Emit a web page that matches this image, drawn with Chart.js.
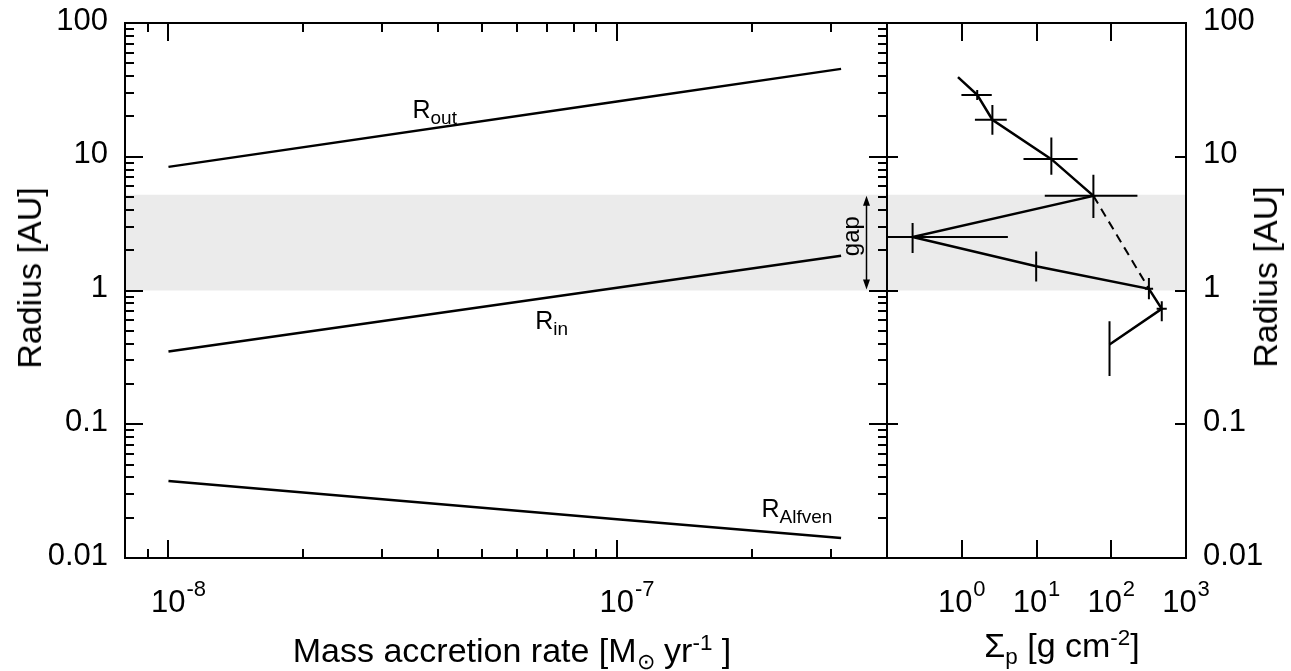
<!DOCTYPE html>
<html>
<head>
<meta charset="utf-8">
<title>Disk radii and planetesimal surface density</title>
<script src="https://cdn.jsdelivr.net/npm/chart.js@4.4.1/dist/chart.umd.min.js"></script>
<style>
  html, body { margin: 0; padding: 0; background: #fff; }
  #stage { position: relative; width: 1291px; height: 671px; overflow: hidden;
           font-family: "Liberation Sans", Arial, sans-serif; color: #000; }
  #stage canvas { position: absolute; left: 0; top: 0; }
  .title { position: absolute; font-size: 34px; line-height: 34px; white-space: nowrap; }
  .title .sup, .title .sub { position: relative; font-size: 0.66em; line-height: 0; }
  .title .sup { top: -0.55em; }
  .title .sub { top: 0.3em; }
  .yTitle { transform: translate(-50%, -50%) rotate(-90deg); }
  .xTitle { transform: translateX(-50%); }
</style>
</head>
<body>
<div id="stage">
  <canvas id="accretionChart" width="1291" height="671"></canvas>
  <canvas id="profileChart" width="1291" height="671"></canvas>
  <div class="title xTitle" id="accretionTitle">Mass accretion rate [M<span class="sub">⊙</span> yr<span class="sup">-1</span> ]</div>
  <div class="title xTitle" id="sigmaTitle">Σ<span class="sub">p</span> [g cm<span class="sup">-2</span>]</div>
  <div class="title yTitle" id="radiusTitleLeft">Radius [AU]</div>
  <div class="title yTitle" id="radiusTitleRight">Radius [AU]</div>
</div>
<script>
// ---- left panel: characteristic radii versus accretion rate ----
const accretionRate = [1e-8, 1e-7, 3.16e-7];       // Msun / yr
const rOut     = [8.4, 25.9, 45.4];                 // AU
const rIn      = [0.35, 1.05, 1.82];                // AU
const rAlfven  = [0.0376, 0.0195, 0.0141];          // AU

// ---- right panel: planetesimal surface density profile ----
const sigmaP     = [1.61, 2.57, 15.8, 57.7, 0.22, 9.9, 319, 474, 94.8];   // g cm^-2
const sigmaLow   = [0.99, 1.5, 6.7, 12.9, 0.08, 9.9, 282, 405, 94.8];
const sigmaHigh  = [2.52, 4.0, 35.5, 224, 4.14, 9.9, 363, 553, 94.8];
const radiusP    = [29, 18.9, 9.6, 5.1, 2.51, 1.52, 1.03, 0.73, 0.395];   // AU
const radiusLow  = [26.6, 14.6, 7.35, 3.48, 1.91, 1.17, 0.86, 0.59, 0.229];
const radiusHigh = [31.6, 24.4, 13.9, 7.35, 3.2, 1.96, 1.24, 0.83, 0.59];
const edgeSigma  = 0.89;   // outer end of the profile
const edgeRadius = 39.4;
const bridgeFrom = 3;      // dashed link across the gap (indices into the arrays)
const bridgeTo   = 6;

// ---- gap region (AU) ----
const gapInner = 1.0;
const gapOuter = 5.2;

// ---- axis ranges and tick labels ----
const accretionRange = [8e-9, 4e-7];
const sigmaRange     = [0.1, 1000];
const radiusRange    = [0.01, 100];
const radiusTicks      = [0.01, 0.1, 1, 10, 100];
const radiusTickLabels = ['0.01', '0.1', '1', '10', '100'];
const accretionTicks     = [1e-8, 1e-7];
const accretionExponents = ['-8', '-7'];
const sigmaTicks     = [1, 10, 100, 1000];
const sigmaExponents = ['0', '1', '2', '3'];

const FONT = '"Liberation Sans", Arial, sans-serif';
const BAND = '#ebebeb';

function minorValues(min, max) {
  const out = [];
  const e0 = Math.floor(Math.log10(min)), e1 = Math.ceil(Math.log10(max));
  for (let e = e0; e <= e1; e++) {
    for (let m = 2; m <= 9; m++) {
      const v = m * Math.pow(10, e);
      if (v > min * 1.0001 && v < max * 0.9999) out.push(v);
    }
  }
  return out;
}

// "10" with a raised exponent, centred on x, baseline at y
function drawPower(ctx, x, y, exp) {
  ctx.font = '31px ' + FONT;
  const wBase = ctx.measureText('10').width;
  ctx.font = '22px ' + FONT;
  const wExp = ctx.measureText(exp).width;
  const start = x - (wBase + wExp + 1) / 2;
  ctx.textAlign = 'left';
  ctx.textBaseline = 'alphabetic';
  ctx.font = '31px ' + FONT;
  ctx.fillText('10', start, y);
  ctx.font = '22px ' + FONT;
  ctx.fillText(exp, start + wBase + 1, y - 16);
}

// "R" with a subscript, left edge at x, baseline at y
function drawSubLabel(ctx, x, y, main, sub) {
  ctx.textAlign = 'left';
  ctx.textBaseline = 'alphabetic';
  ctx.font = '25px ' + FONT;
  ctx.fillText(main, x, y);
  const w = ctx.measureText(main).width;
  ctx.font = '19px ' + FONT;
  ctx.fillText(sub, x + w, y + 6);
}

function gapBand(chart) {
  const { ctx, chartArea: a, scales: { y } } = chart;
  const top = y.getPixelForValue(gapOuter);
  const bot = y.getPixelForValue(gapInner);
  ctx.save();
  ctx.fillStyle = BAND;
  ctx.fillRect(a.left, top, a.right - a.left, bot - top);
  ctx.restore();
}

function drawFrame(chart, o) {
  const { ctx, chartArea: a, scales: { x, y } } = chart;
  ctx.save();
  ctx.strokeStyle = '#000';
  ctx.lineWidth = 2;
  ctx.beginPath();
  const seg = (x1, y1, x2, y2) => { ctx.moveTo(x1, y1); ctx.lineTo(x2, y2); };
  const xt = o.xMajor.map(v => [v, o.xMajorLen]);
  if (o.xMinorLen) minorValues(x.min, x.max).forEach(v => xt.push([v, o.xMinorLen]));
  xt.forEach(([v, len]) => {
    const px = Math.round(x.getPixelForValue(v));
    seg(px, a.top, px, a.top + len);
    seg(px, a.bottom, px, a.bottom - len);
  });
  const yt = radiusTicks.map(v => [v, o.yMajorLen]);
  if (o.yMinorLen) minorValues(y.min, y.max).forEach(v => yt.push([v, o.yMinorLen]));
  yt.forEach(([v, len]) => {
    const py = Math.round(y.getPixelForValue(v));
    seg(a.left, py, a.left + len, py);
    seg(a.right, py, a.right - len, py);
  });
  ctx.stroke();
  ctx.strokeRect(a.left, a.top, a.right - a.left, a.bottom - a.top);
  ctx.restore();
}

function yLabels(chart, side) {
  const { ctx, chartArea: a, scales: { y } } = chart;
  ctx.save();
  ctx.fillStyle = '#000';
  ctx.font = '31px ' + FONT;
  ctx.textBaseline = 'middle';
  ctx.textAlign = side === 'left' ? 'right' : 'left';
  const x = side === 'left' ? a.left - 17 : a.right + 17;
  radiusTicks.forEach((v, i) => ctx.fillText(radiusTickLabels[i], x, y.getPixelForValue(v) - 2));
  ctx.restore();
}

function xLabels(chart, values, exps, shift) {
  const { ctx, chartArea: a, scales: { x } } = chart;
  ctx.save();
  ctx.fillStyle = '#000';
  values.forEach((v, i) => drawPower(ctx, x.getPixelForValue(v) + shift, a.bottom + 54, exps[i]));
  ctx.restore();
}

const commonScales = (xr) => ({
  x: { type: 'logarithmic', min: xr[0], max: xr[1], display: false },
  y: { type: 'logarithmic', min: radiusRange[0], max: radiusRange[1], display: false }
});

const commonOptions = {
  responsive: false,
  animation: false,
  devicePixelRatio: 1,
  events: [],
  plugins: { legend: { display: false }, tooltip: { enabled: false } },
  elements: { point: { radius: 0 }, line: { tension: 0, borderCapStyle: 'butt', borderJoinStyle: 'miter' } }
};

const series = (ys) => accretionRate.map((m, i) => ({ x: m, y: ys[i] }));
const lineStyle = { borderColor: '#000', borderWidth: 2.5, fill: false };

// ---------------- left chart ----------------
new Chart(document.getElementById('accretionChart'), {
  type: 'line',
  data: {
    datasets: [
      { label: 'R_out', data: series(rOut), ...lineStyle },
      { label: 'R_in', data: series(rIn), ...lineStyle },
      { label: 'R_Alfven', data: series(rAlfven), ...lineStyle }
    ]
  },
  options: {
    ...commonOptions,
    layout: { padding: { left: 125, right: 1291 - 887, top: 23, bottom: 671 - 558 } },
    scales: commonScales(accretionRange)
  },
  plugins: [{
    id: 'accretionDecor',
    beforeDatasetsDraw(chart) { gapBand(chart); },
    afterDraw(chart) {
      const { ctx, scales: { x, y } } = chart;
      drawFrame(chart, { xMajor: accretionTicks, xMajorLen: 18, xMinorLen: 9, yMajorLen: 18, yMinorLen: 9 });
      yLabels(chart, 'left');
      xLabels(chart, accretionTicks, accretionExponents, 10);

      ctx.save();
      ctx.fillStyle = '#000';
      drawSubLabel(ctx, x.getPixelForValue(3.5e-8), y.getPixelForValue(19.5), 'R', 'out');
      drawSubLabel(ctx, x.getPixelForValue(6.57e-8), y.getPixelForValue(0.512), 'R', 'in');
      drawSubLabel(ctx, x.getPixelForValue(2.1e-7), y.getPixelForValue(0.0202), 'R', 'Alfven');

      // double-headed arrow marking the gap
      const ax = Math.round(x.getPixelForValue(3.6e-7)) + 0.5;
      const y0 = y.getPixelForValue(gapOuter) + 1;
      const y1 = y.getPixelForValue(gapInner) - 1;
      ctx.strokeStyle = '#000';
      ctx.lineWidth = 1.5;
      ctx.beginPath();
      ctx.moveTo(ax, y0 + 6); ctx.lineTo(ax, y1 - 6);
      ctx.stroke();
      ctx.beginPath();
      ctx.moveTo(ax, y0); ctx.lineTo(ax - 3.5, y0 + 10); ctx.lineTo(ax + 3.5, y0 + 10); ctx.closePath();
      ctx.moveTo(ax, y1); ctx.lineTo(ax - 3.5, y1 - 10); ctx.lineTo(ax + 3.5, y1 - 10); ctx.closePath();
      ctx.fill();

      ctx.translate(ax - 12, y.getPixelForValue(2.55));
      ctx.rotate(-Math.PI / 2);
      ctx.font = '24px ' + FONT;
      ctx.textAlign = 'center';
      ctx.textBaseline = 'middle';
      ctx.fillText('gap', 0, -2);
      ctx.restore();
    }
  }]
});

// ---------------- right chart ----------------
const profile = [{ x: edgeSigma, y: edgeRadius }].concat(sigmaP.map((s, i) => ({ x: s, y: radiusP[i] })));
const bridge = [bridgeFrom, bridgeTo].map(i => ({ x: sigmaP[i], y: radiusP[i] }));

new Chart(document.getElementById('profileChart'), {
  type: 'line',
  data: {
    datasets: [
      { label: 'profile', data: profile, ...lineStyle },
      { label: 'bridge', data: bridge, ...lineStyle, borderWidth: 2, borderDash: [9, 6] }
    ]
  },
  options: {
    ...commonOptions,
    layout: { padding: { left: 887, right: 1291 - 1186, top: 23, bottom: 671 - 558 } },
    scales: commonScales(sigmaRange)
  },
  plugins: [{
    id: 'profileDecor',
    beforeDatasetsDraw(chart) { gapBand(chart); },
    afterDatasetsDraw(chart) {
      const { ctx, chartArea: a, scales: { x, y } } = chart;
      ctx.save();
      ctx.beginPath();
      ctx.rect(a.left, a.top, a.right - a.left, a.bottom - a.top);
      ctx.clip();
      ctx.strokeStyle = '#000';
      ctx.lineWidth = 2;
      ctx.beginPath();
      sigmaP.forEach((s, i) => {
        const py = y.getPixelForValue(radiusP[i]);
        const px = x.getPixelForValue(s);
        ctx.moveTo(x.getPixelForValue(sigmaLow[i]), py);
        ctx.lineTo(x.getPixelForValue(sigmaHigh[i]), py);
        ctx.moveTo(px, y.getPixelForValue(radiusHigh[i]));
        ctx.lineTo(px, y.getPixelForValue(radiusLow[i]));
      });
      ctx.stroke();
      ctx.restore();
    },
    afterDraw(chart) {
      drawFrame(chart, { xMajor: sigmaTicks, xMajorLen: 18, xMinorLen: 0, yMajorLen: 11, yMinorLen: 0 });
      yLabels(chart, 'right');
      xLabels(chart, sigmaTicks, sigmaExponents, 0);
    }
  }]
});

// axis titles
(function placeTitles() {
  const set = (id, left, top) => {
    const el = document.getElementById(id);
    el.style.left = left + 'px';
    el.style.top = top + 'px';
  };
  set('accretionTitle', 512, 633);
  set('sigmaTitle', 1062, 628);
  set('radiusTitleLeft', 29, 278);
  set('radiusTitleRight', 1265, 277);
})();
</script>
</body>
</html>
